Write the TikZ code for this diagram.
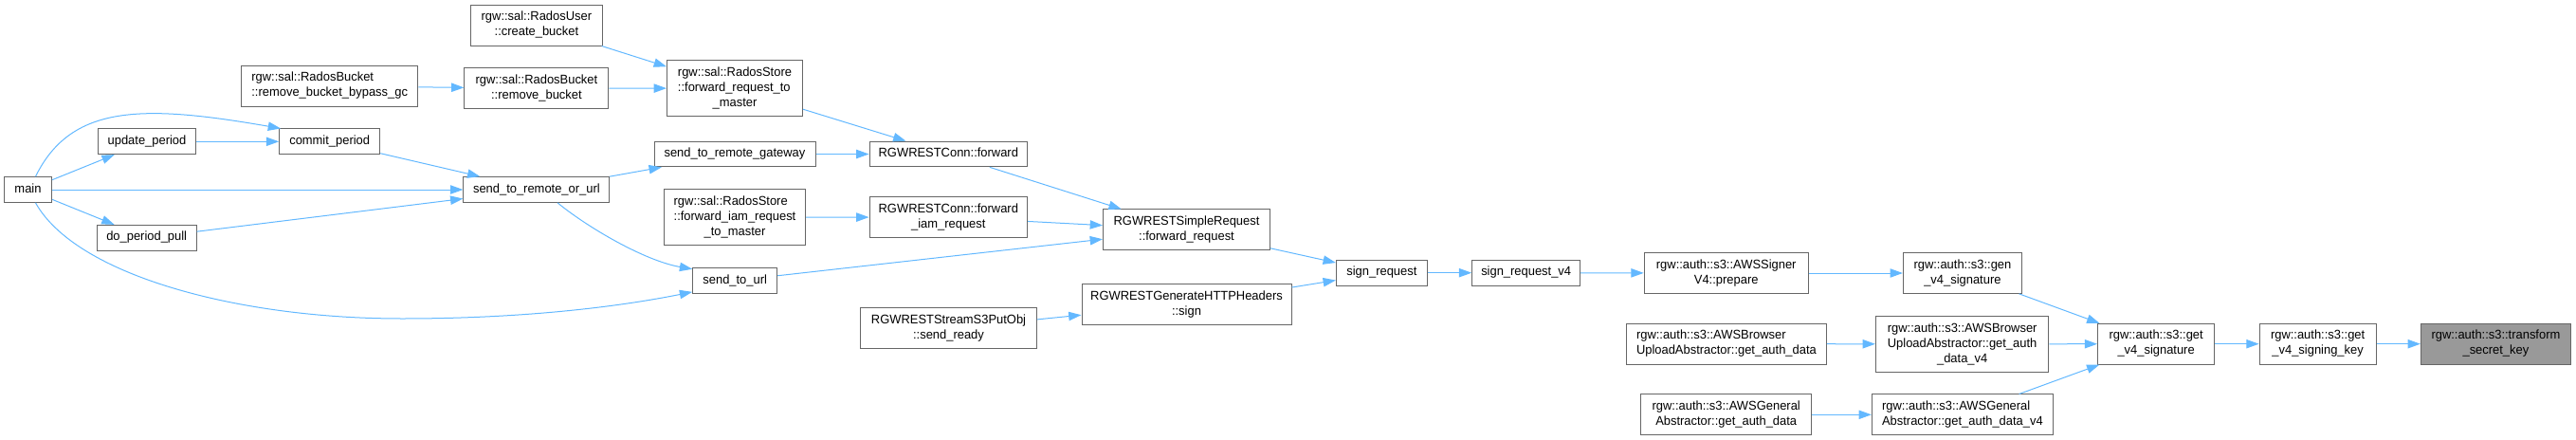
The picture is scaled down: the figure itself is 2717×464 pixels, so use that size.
\documentclass[tikz,border=0pt]{standalone}
\usepackage{fontspec}
\setmainfont{Liberation Sans}[FakeStretch=0.97]
\usetikzlibrary{arrows.meta}
\definecolor{edgecol}{HTML}{63B8FF}
\definecolor{nodeborder}{HTML}{666666}
\definecolor{hlfill}{HTML}{999999}
\newcommand\onel[1]{\begin{tabular}{@{}c@{}}#1\end{tabular}}
\newcommand\twol[2]{\begin{tabular}{@{}l@{}}#1\\\multicolumn{1}{@{}c@{}}{#2}\end{tabular}}
\begin{document}
\begin{tikzpicture}[x=0.75pt,y=-0.75pt,
  nd/.style={draw=nodeborder, fill=white, line width=0.75pt, rectangle, inner sep=0pt,
    font=\fontsize{10}{12}\selectfont, text=black},
  hl/.style={nd, fill=hlfill},
  bw/.style={minimum width=#1*0.75pt},
  h1/.style={minimum height=20pt},
  h2/.style={minimum height=32pt},
  h3/.style={minimum height=44pt},
  ed/.style={draw=edgecol, line width=0.75pt, -{Triangle[length=10pt,width=7pt]}}]
\useasboundingbox (0,0) rectangle (2717,464);

\node[nd,bw=50,h1] (main) at (29.5,200) {\onel{main}};
\node[nd,bw=103,h1] (upd) at (155,149.3) {\onel{update\_period}};
\node[nd,bw=105,h1] (dpp) at (154.7,250.7) {\onel{do\_period\_pull}};
\node[nd,bw=106,h1] (commit) at (347.7,149.3) {\onel{commit\_period}};
\node[nd,bw=186.5,h2] (bypass) at (347.7,90.7) {\twol{rgw::sal::RadosBucket}{::remove\_bucket\_bypass\_gc}};
\node[nd,bw=152,h2] (rmb) at (565.9,93.3) {\twol{rgw::sal::RadosBucket}{::remove\_bucket}};
\node[nd,bw=139,h2] (crb) at (565.9,26.7) {\twol{rgw::sal::RadosUser}{::create\_bucket}};
\node[nd,bw=154,h1] (str) at (565.9,200) {\onel{send\_to\_remote\_or\_url}};
\node[nd,bw=143,h3] (frm) at (775,93) {\twol{rgw::sal::RadosStore\\::forward\_request\_to}{\_master}};
\node[nd,bw=170,h1] (srg) at (775,162.5) {\onel{send\_to\_remote\_gateway}};
\node[nd,bw=149,h3] (fim) at (775,229.2) {\twol{rgw::sal::RadosStore\\::forward\_iam\_request}{\_to\_master}};
\node[nd,bw=89,h1] (url) at (775.2,295.8) {\onel{send\_to\_url}};
\node[nd,bw=166.5,h1] (cfw) at (1000.3,162.5) {\onel{RGWRESTConn::forward}};
\node[nd,bw=166.5,h2] (cfi) at (1000.3,229) {\twol{RGWRESTConn::forward}{\_iam\_request}};
\node[nd,bw=186,h2] (s3p) at (1000.5,346.3) {\twol{RGWRESTStreamS3PutObj}{::send\_ready}};
\node[nd,bw=176,h2] (srq) at (1251.5,242.3) {\twol{RGWRESTSimpleRequest}{::forward\_request}};
\node[nd,bw=221,h2] (ghh) at (1251.5,321) {\twol{RGWRESTGenerateHTTPHeaders}{::sign}};
\node[nd,bw=96,h1] (sgn) at (1457.4,287.7) {\onel{sign\_request}};
\node[nd,bw=114,h1] (sg4) at (1609.7,287.7) {\onel{sign\_request\_v4}};
\node[nd,bw=173,h2] (prep) at (1820.7,288) {\twol{rgw::auth::s3::AWSSigner}{V4::prepare}};
\node[nd,bw=211,h2] (bad) at (1820.9,362.7) {\twol{rgw::auth::s3::AWSBrowser}{UploadAbstractor::get\_auth\_data}};
\node[nd,bw=180,h2] (gad) at (1820.7,437.3) {\twol{rgw::auth::s3::AWSGeneral}{Abstractor::get\_auth\_data}};
\node[nd,bw=125,h2] (gen) at (2069.9,288) {\twol{rgw::auth::s3::gen}{\_v4\_signature}};
\node[nd,bw=182.5,h3] (bad4) at (2069.7,362.8) {\twol{rgw::auth::s3::AWSBrowser\\UploadAbstractor::get\_auth}{\_data\_v4}};
\node[nd,bw=191,h2] (gad4) at (2069.9,437.3) {\twol{rgw::auth::s3::AWSGeneral}{Abstractor::get\_auth\_data\_v4}};
\node[nd,bw=123,h2] (gsig) at (2274.1,362.7) {\twol{rgw::auth::s3::get}{\_v4\_signature}};
\node[nd,bw=123,h2] (gkey) at (2444.6,362.7) {\twol{rgw::auth::s3::get}{\_v4\_signing\_key}};
\node[hl,bw=158,h2] (tsk) at (2632.4,362.7) {\twol{rgw::auth::s3::transform}{\_secret\_key}};

\draw[ed] (main) -- (upd);
\draw[ed] (main) -- (dpp);
\draw[ed] (main) -- (str);
\draw[ed] (main.60) .. controls (75,110) and (150,110) .. (commit.165);
\draw[ed] (main.-60) .. controls (80,290) and (250,336) .. (424,336) .. controls (560,336) and (660,322) .. (url.195);
\draw[ed] (upd) -- (commit);
\draw[ed] (commit) -- (str);
\draw[ed] (dpp) -- (str);
\draw[ed] (bypass) -- (rmb);
\draw[ed] (rmb) -- (frm);
\draw[ed] (crb) -- (frm);
\draw[ed] (str) -- (srg);
\draw[ed] (str.-32) .. controls (620,240) and (680,275) .. (url.165);
\draw[ed] (frm) -- (cfw);
\draw[ed] (srg) -- (cfw);
\draw[ed] (fim) -- (cfi);
\draw[ed] (cfw) -- (srq);
\draw[ed] (cfi) -- (srq);
\draw[ed] (url) -- (srq);
\draw[ed] (s3p) -- (ghh);
\draw[ed] (srq) -- (sgn);
\draw[ed] (ghh) -- (sgn);
\draw[ed] (sgn) -- (sg4);
\draw[ed] (sg4) -- (prep);
\draw[ed] (prep) -- (gen);
\draw[ed] (gen) -- (gsig);
\draw[ed] (bad) -- (bad4);
\draw[ed] (bad4) -- (gsig);
\draw[ed] (gad) -- (gad4);
\draw[ed] (gad4) -- (gsig);
\draw[ed] (gsig) -- (gkey);
\draw[ed] (gkey) -- (tsk);
\end{tikzpicture}
\end{document}
